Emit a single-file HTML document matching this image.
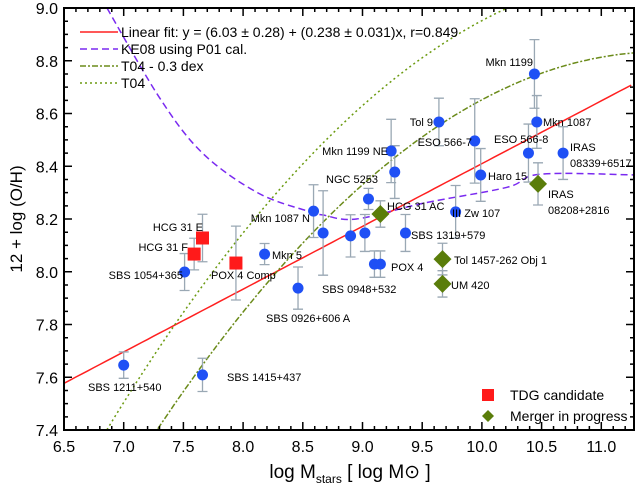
<!DOCTYPE html>
<html><head><meta charset="utf-8">
<style>
html,body{margin:0;padding:0;background:#fff;overflow:hidden;width:638px;height:496px;}
svg{display:block;font-family:"Liberation Sans",Arial,sans-serif;}
</style></head>
<body>
<svg id="chart" width="638" height="496" viewBox="0 0 638 496">
<defs><clipPath id="clip"><rect x="64" y="8" width="570" height="422"/></clipPath></defs>
<g id="curves" clip-path="url(#clip)"></g>
<g id="errs"></g>
<g id="marks"></g>
<g id="labels" font-size="11" fill="#000"></g>
<g id="axes"></g>
<g id="legend" font-size="14">
  <line x1="80" y1="32" x2="118" y2="32" stroke="#ff2020" stroke-width="1.5"/>
  <text x="121" y="37">Linear fit: y = (6.03 ± 0.28) + (0.238 ± 0.031)x,  r=0.849</text>
  <line x1="80" y1="49" x2="118" y2="49" stroke="#7a2af0" stroke-width="1.5" stroke-dasharray="7,4"/>
  <text x="121" y="54">KE08 using P01 cal.</text>
  <line x1="80" y1="66" x2="118" y2="66" stroke="#6b8b1a" stroke-width="1.5" stroke-dasharray="6,2,2,2"/>
  <text x="121" y="71">T04 - 0.3 dex</text>
  <line x1="80" y1="83" x2="118" y2="83" stroke="#6b9a10" stroke-width="1.5" stroke-dasharray="2,3"/>
  <text x="121" y="88">T04</text>
  <rect x="482" y="389" width="12" height="12" fill="#ff1a1a"/>
  <text x="510" y="400">TDG candidate</text>
  <polygon points="488,410 494,416 488,422 482,416" fill="#5a7d0a"/>
  <text x="510" y="421">Merger in progress</text>
</g>
<text x="350" y="478" font-size="19" text-anchor="middle">log M<tspan font-size="12" dy="5">stars</tspan><tspan dy="-5"> [ log M⊙ ]</tspan></text>
<text transform="translate(22,219) rotate(-90)" font-size="17" text-anchor="middle">12 + log (O/H)</text>
</svg>
<script>
const names=["SBS 1211+540","SBS 1415+437","SBS 1054+365","Mkn 5","SBS 0926+606 A","Mkn 1087 N","pt-8.67","pt-8.90","pt-9.02","NGC 5253","POX 4a","POX 4b","Mkn 1199 NE","pt-9.27","SBS 1319+579","Tol 9","III Zw 107","ESO 566-7","Haro 15","ESO 566-8","Mkn 1199","Mkn 1087","IRAS 08339+6517"];
const blueX=[7.00,7.66,7.51,8.18,8.46,8.59,8.67,8.90,9.02,9.05,9.10,9.15,9.24,9.27,9.36,9.64,9.78,9.94,9.99,10.39,10.44,10.46,10.68];
const blueY=[7.646,7.609,7.999,8.067,7.938,8.230,8.147,8.136,8.147,8.276,8.029,8.029,8.458,8.378,8.147,8.568,8.227,8.496,8.367,8.450,8.750,8.568,8.450];
const blueErr=[0.05,0.063,0.07,0.04,0.08,0.10,0.16,0.08,0.07,0.04,0.05,0.05,0.12,0.10,0.07,0.09,0.10,0.16,0.10,0.11,0.13,0.10,0.10];
const tdgNames=["HCG 31 F","HCG 31 E","POX 4 Comp"];
const tdgX=[7.59,7.66,7.94];
const tdgY=[8.067,8.128,8.033];
const tdgErr=[0.06,0.09,0.14];
const mergNames=["HCG 31 AC","Tol 1457-262 Obj 1","UM 420","IRAS 08208+2816"];
const mergX=[9.15,9.67,9.67,10.47];
const mergY=[8.219,8.048,7.954,8.333];
const mergErr=[0.05,0.06,0.05,0.08];
const linFit=[6.03,0.238];
const t04Coef=[-1.492,1.847,-0.08026];
const t04Offset=[0,-0.3];
const ke08X=[6.86,7.30,7.66,8.12,8.54,8.67,8.95,9.51,10.21,10.49,11.3];
const ke08Y=[9.0,8.66,8.45,8.30,8.23,8.215,8.20,8.26,8.32,8.37,8.367];
const xTicks=["6.5","7.0","7.5","8.0","8.5","9.0","9.5","10.0","10.5","11.0"];
const yTicks=["7.4","7.6","7.8","8.0","8.2","8.4","8.6","8.8","9.0"];

const NS="http://www.w3.org/2000/svg";
const X0=64,X1=634,Y0=8,Y1=430,XMIN=6.5,YMIN=7.4,YMAX=9.0;
function sx(v){return X0+(v-XMIN)*119.4;}
function sy(v){return Y1-(v-YMIN)*(Y1-Y0)/(YMAX-YMIN);}
function mk(tag,parent,attrs){const e=document.createElementNS(NS,tag);for(const k in attrs)e.setAttribute(k,attrs[k]);document.getElementById(parent).appendChild(e);return e;}

// curves
let d="";for(let x=6.5;x<=11.3;x+=0.05){d+=(d?"L":"M")+sx(x).toFixed(1)+","+sy(linFit[0]+linFit[1]*x).toFixed(1);}
let c=mk("path","curves",{d:d,fill:"none",stroke:"#ff2020","stroke-width":1.5});


// smooth path (Catmull-Rom) through the KE08 points
const kp=ke08X.map((x,i)=>[sx(x),sy(ke08Y[i])]);
d="M"+kp[0][0]+","+kp[0][1];
for(let i=0;i<kp.length-1;i++){const p0=kp[Math.max(0,i-1)],p1=kp[i],p2=kp[i+1],p3=kp[Math.min(kp.length-1,i+2)];
 const c1=[p1[0]+(p2[0]-p0[0])/6,p1[1]+(p2[1]-p0[1])/6],c2=[p2[0]-(p3[0]-p1[0])/6,p2[1]-(p3[1]-p1[1])/6];
 d+=`C${c1[0].toFixed(1)},${c1[1].toFixed(1)} ${c2[0].toFixed(1)},${c2[1].toFixed(1)} ${p2[0].toFixed(1)},${p2[1].toFixed(1)}`;}
c=mk("path","curves",{d:d,fill:"none",stroke:"#7a2af0","stroke-width":1.5,"stroke-dasharray":"7,4"});


t04Offset.forEach((off,j)=>{let p="";for(let x=6.5;x<=11.3;x+=0.02){const y=t04Coef[0]+t04Coef[1]*x+t04Coef[2]*x*x+off;p+=(p?"L":"M")+sx(x).toFixed(1)+","+sy(y).toFixed(1);}
 const e=mk("path","curves",{d:p,fill:"none",stroke:j?"#6b8b1a":"#6b9a10","stroke-width":1.5,"stroke-dasharray":j?"6,2,2,2":"2,3"});
 
 
});

function err(x,y,e){const px=sx(x),t=sy(y+e),b=sy(y-e);
 const g=mk("path","errs",{d:`M${px},${t}V${b}M${px-5},${t}H${px+5}M${px-5},${b}H${px+5}`,stroke:"#9aa8b4","stroke-width":1.3,fill:"none"});
 
 }
blueX.forEach((x,i)=>{err(x,blueY[i],blueErr[i]);
 const e=mk("circle","marks",{cx:sx(x),cy:sy(blueY[i]),r:5.5,fill:"#1f50f5"});
 
 });
tdgX.forEach((x,i)=>{err(x,tdgY[i],tdgErr[i]);
 const e=mk("rect","marks",{x:sx(x)-6.5,y:sy(tdgY[i])-6.5,width:13,height:13,fill:"#ff1a1a"});
 
 });
mergX.forEach((x,i)=>{err(x,mergY[i],mergErr[i]);const px=sx(x),py=sy(mergY[i]);
 const e=mk("polygon","marks",{points:`${px},${py-9} ${px+9},${py} ${px},${py+9} ${px-9},${py}`,fill:"#5a7d0a"});
 
 });

const labs=[["Mkn 1199",533,66,"end"],["Tol 9",433,126,"end"],["Mkn 1087",543,126,"start"],["ESO 566-7",472,146,"end"],["ESO 566-8",494,143,"start"],["IRAS",570,151,"start"],["08339+6517",570,167,"start"],["Mkn 1199 NE",388,155,"end"],["Haro 15",488,180,"start"],["NGC 5253",326,183,"start"],["HCG 31 AC",387,210,"start"],["III Zw 107",452,217,"start"],["IRAS",548,198,"start"],["08208+2816",548,214,"start"],["Mkn 1087 N",310,222,"end"],["HCG 31 E",203,231,"end"],["HCG 31 F",188,251,"end"],["SBS 1319+579",411,239,"start"],["Mkn 5",272,259,"start"],["SBS 1054+365",183,279,"end"],["POX 4 Comp",211,279,"start"],["POX 4",391,271,"start"],["Tol 1457-262 Obj 1",454,264,"start"],["SBS 0948+532",322,293,"start"],["UM 420",451,289,"start"],["SBS 0926+606 A",266,322,"start"],["SBS 1415+437",227,381,"start"],["SBS 1211+540",88,391,"start"]];
labs.forEach(l=>{const t=mk("text","labels",{x:l[1],y:l[2],"text-anchor":l[3]});t.textContent=l[0];
 
 });

let fr=mk("rect","axes",{x:X0,y:Y0,width:X1-X0,height:Y1-Y0,fill:"none",stroke:"#000","stroke-width":2});


let td="";
for(let k=0;k<=48;k++){const v=6.5+k*0.1;const px=sx(v);if(px>X1)break;const L=(k%5==0)?8:4;td+=`M${px},${Y1}v${-L}M${px},${Y0}v${L}`;}
for(let k=0;k<=32;k++){const v=7.4+k*0.05;const py=sy(v);const L=(k%4==0)?8:4;td+=`M${X0},${py}h${L}M${X1},${py}h${-L}`;}
let tk=mk("path","axes",{d:td,stroke:"#000","stroke-width":1.5,fill:"none"});


xTicks.forEach(s=>{const t=mk("text","axes",{x:sx(parseFloat(s)),y:452,"font-size":16,"text-anchor":"middle"});t.textContent=s;
 
 });
yTicks.forEach(s=>{const t=mk("text","axes",{x:58,y:sy(parseFloat(s))+6,"font-size":16,"text-anchor":"end"});t.textContent=s;
 
 });
</script>
</body></html>
